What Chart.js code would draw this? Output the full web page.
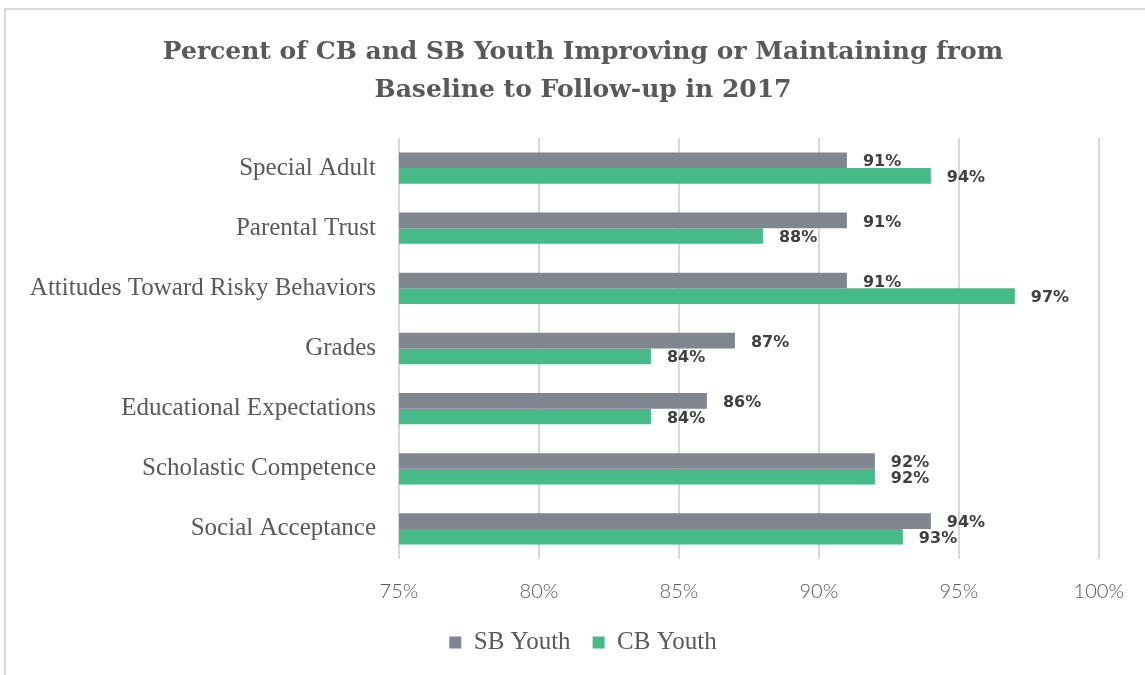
<!DOCTYPE html>
<html>
<head>
<meta charset="utf-8">
<script src="https://cdn.jsdelivr.net/npm/chart.js@4"></script>
<style>
  body { margin: 0; background: #fff; }
  #wrap { position: relative; width: 1145px; height: 675px; }
  #frame { position: absolute; left: 4px; top: 8px; right: -10px; bottom: -10px;
           border-left: 2px solid #d9d9d9; border-top: 2px solid #d9d9d9; }
  canvas { position: absolute; left: 0; top: 0; }
</style>
</head>
<body>
<div id="wrap">
  <div id="frame"></div>
  <canvas id="myChart" width="1145" height="675"></canvas>
</div>
<script>
const categories = ["Special Adult", "Parental Trust", "Attitudes Toward Risky Behaviors", "Grades",
    "Educational Expectations", "Scholastic Competence", "Social Acceptance"];
const sbYouth = [91, 91, 91, 87, 86, 92, 94];
const cbYouth = [94, 88, 97, 84, 84, 92, 93];
const xTicks = [75, 80, 85, 90, 95, 100];

// labels next to bar ends
const barLabels = {
    id: "barLabels",
    afterDatasetsDraw(chart) {
        const ctx = chart.ctx;
        ctx.save();
        ctx.font = "bold 16px 'DejaVu Sans'";
        ctx.fillStyle = "#404040";
        ctx.textBaseline = "middle";
        chart.data.datasets.forEach((ds, i) => {
            chart.getDatasetMeta(i).data.forEach((bar, j) => {
                ctx.fillText(ds.data[j] + "%", bar.x + 16, bar.y + 2);
            });
        });
        ctx.restore();
    }
};

const ctx = document.getElementById("myChart");
new Chart(ctx, {
    type: "bar",
    data: {
        labels: categories,
        datasets: [
            { label: "SB Youth", data: sbYouth, backgroundColor: "#7f8690", borderWidth: 0 },
            { label: "CB Youth", data: cbYouth, backgroundColor: "#47ba89", borderWidth: 0 }
        ]
    },
    options: {
        indexAxis: "y",
        responsive: false,
        animation: false,
        categoryPercentage: 0.52,
        barPercentage: 1,
        layout: { padding: { left: 22, right: 1, top: 0, bottom: 10 } },
        scales: {
            x: {
                min: 75,
                max: 100,
                afterBuildTicks: (scale) => { scale.ticks = xTicks.map(v => ({ value: v })); },
                afterFit: (scale) => { scale.height = scale.height - 17; },
                grid: { color: "#d9d9d9", lineWidth: 2, drawTicks: false },
                border: { display: false },
                ticks: {
                    padding: 21,
                    color: "#595959",
                    font: { family: "Lato", size: 20, weight: "300" },
                    callback: (v) => v + "%"
                }
            },
            y: {
                afterFit: (scale) => { scale.width = 377; },
                grid: { display: false },
                border: { display: false },
                ticks: {
                    padding: 15,
                    color: "#595959",
                    font: { family: "Liberation Serif", size: 25 }
                }
            },
            // empty spacer on the right so the plot ends at 100% like the original
            yRight: {
                axis: "y",
                type: "linear",
                position: "right",
                afterFit: (scale) => { scale.width = 44; },
                grid: { display: false },
                border: { display: false },
                ticks: { display: false }
            }
        },
        plugins: {
            title: {
                display: true,
                text: ["Percent of CB and SB Youth Improving or Maintaining from", "Baseline to Follow-up in 2017"],
                color: "#595959",
                font: { family: "DejaVu Serif", size: 25, weight: "bold", lineHeight: 1.52 },
                padding: { top: 33, bottom: 29 }
            },
            legend: {
                position: "bottom",
                labels: {
                    boxWidth: 12,
                    boxHeight: 12,
                    padding: 22,
                    color: "#595959",
                    font: { family: "Liberation Serif", size: 25 }
                }
            },
            tooltip: { enabled: false }
        }
    },
    plugins: [barLabels]
});
</script>
</body>
</html>
